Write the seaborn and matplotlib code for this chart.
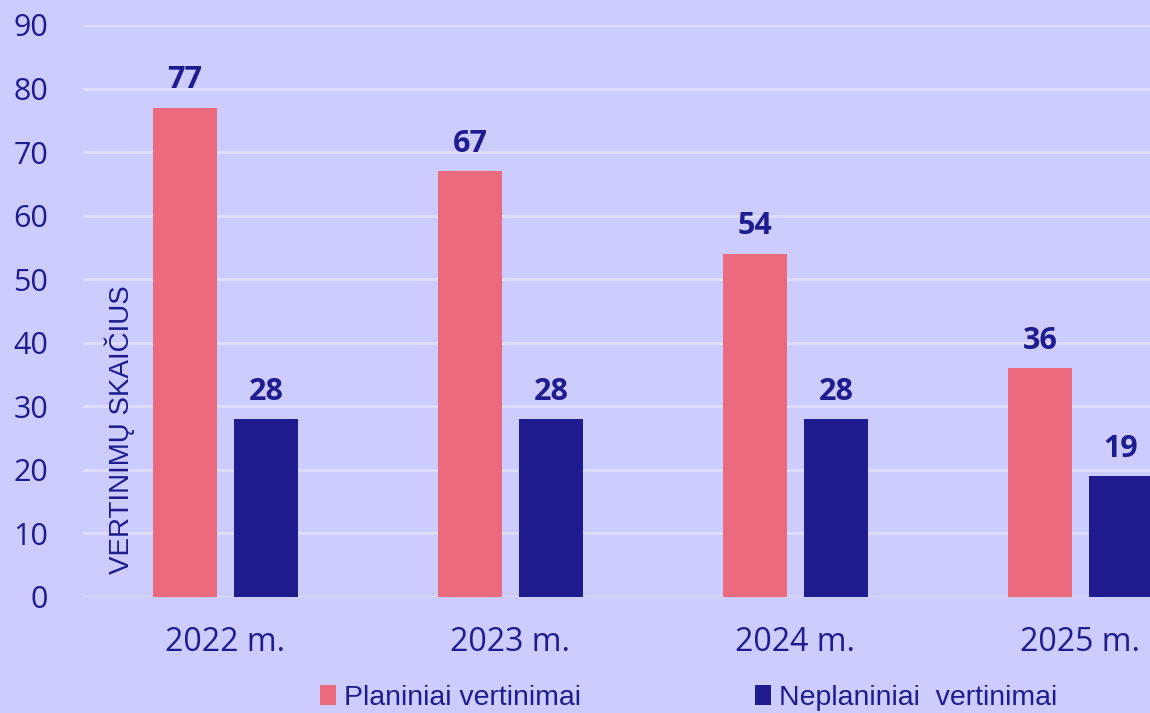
import pandas as pd
import matplotlib.pyplot as plt
import seaborn as sns

# chart data
years = ['2022 m.', '2023 m.', '2024 m.', '2025 m.']
planned = [77, 67, 54, 36]
unplanned = [28, 28, 28, 19]
series_names = ['Planiniai vertinimai', 'Neplaniniai  vertinimai']
y_ticks = [0, 10, 20, 30, 40, 50, 60, 70, 80, 90]

BG = '#CCCCFF'
PINK = '#EB6A7E'
NAVY = '#1E1C8E'
GRID = '#DDDDF7'

df = pd.DataFrame({
    'year': years * 2,
    'series': [series_names[0]] * len(years) + [series_names[1]] * len(years),
    'value': planned + unplanned,
})

sns.set_theme(style='white')
plt.rcParams['font.family'] = ['Open Sans', 'DejaVu Sans']

fig = plt.figure(figsize=(11.5, 7.13), dpi=100, facecolor=BG)
ax = fig.add_axes([83 / 1150, 1 - 597 / 713, 1 - 83 / 1150, (597 - 25) / 713])
ax.set_facecolor(BG)

sns.barplot(data=df, x='year', y='value', hue='series', hue_order=series_names,
            palette=[PINK, NAVY], width=0.568, gap=0.21, saturation=1,
            linewidth=0, ax=ax, zorder=3)

for cont in ax.containers:
    ax.bar_label(cont, padding=9, fontsize=22, fontweight='bold', color=NAVY)

ax.set_ylim(0, 90)
ax.set_xlim(-0.5, 3.244)
ax.set_yticks(y_ticks)
ax.yaxis.grid(True, color=GRID, linewidth=2)
ax.set_axisbelow(True)
for s in ax.spines.values():
    s.set_visible(False)
ax.tick_params(axis='y', length=0, pad=25, labelsize=22, labelcolor=NAVY)
ax.tick_params(axis='x', length=0, pad=21, labelsize=23, labelcolor=NAVY)
ax.set_xlabel('')

ax.set_ylabel('VERTINIMŲ SKAIČIUS', fontsize=20, color=NAVY,
              family=['Liberation Sans', 'DejaVu Sans'])
ax.yaxis.set_label_coords((120 - 83) / 1067, (597 - 430) / 572)
ax.yaxis.label.set_va('center')

leg = ax.legend(loc='center left', bbox_to_anchor=(320 / 1150, 1 - 698 / 713),
                bbox_transform=fig.transFigure, ncol=2, frameon=False,
                borderpad=0, borderaxespad=0, handlelength=0.55, handleheight=0.65,
                handletextpad=0.3, columnspacing=6.1,
                prop={'family': ['Liberation Sans', 'DejaVu Sans'], 'size': 20.5})
for t in leg.get_texts():
    t.set_color(NAVY)

fig.savefig('out.png', dpi=100, facecolor=BG)
